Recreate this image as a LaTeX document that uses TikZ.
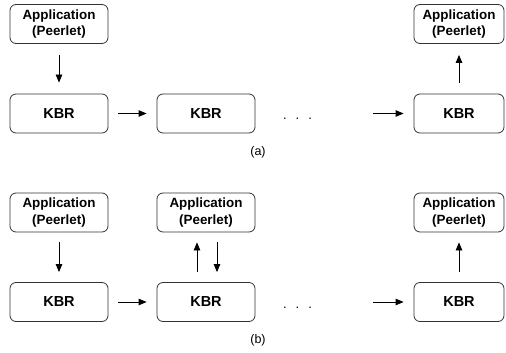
\documentclass[tikz,border=0pt]{standalone}
\usepackage{fontspec}
\setmainfont{Liberation Sans}
\usetikzlibrary{arrows.meta}

\tikzset{
  box/.style={draw=black!80, line width=.8pt, rounded corners=6pt,
    minimum width=98pt, minimum height=39pt, align=center,
    font=\fontsize{13.4}{16.5}\selectfont\bfseries},
  kbrbox/.style={box, font=\fontsize{14.5}{16}\selectfont\bfseries},
  endbox/.style={minimum width=90pt},
  msg/.style={-{Triangle[length=8pt,width=6.5pt]}, line width=.8pt},
  dotsline/.style={anchor=base, font=\fontsize{13}{16}\selectfont},
  caption/.style={font=\fontsize{12.5}{14}\selectfont}
}

\begin{document}
\begin{tikzpicture}[x=1pt, y=-1pt]
    \useasboundingbox (0,0) rectangle (506,353);

    % (a) routing, delivered only at the end
    \node [box]          (appAa) at (59,24)    {Application\\(Peerlet)};
    \node [kbrbox]       (kbrAa) at (59,113.5) {KBR};
    \node [kbrbox]       (kbrAb) at (206,113.5) {KBR};
    \node [kbrbox,endbox] (kbrAc) at (459,113.5) {KBR};
    \node [box,endbox]   (appAc) at (459,24)   {Application\\(Peerlet)};
    \node [dotsline]     (dotsA) at (297.5,119.5) {.\hspace{9pt}.\hspace{9pt}.};
    \coordinate (inA) at (373,113.5);

    \draw [msg, shorten <=11pt, shorten >=11pt] (appAa) -- (kbrAa);
    \draw [msg, shorten <=10pt, shorten >=10pt] (kbrAa) -- (kbrAb);
    \draw [msg, shorten >=10pt] (inA) -- (kbrAc);
    \draw [msg, shorten <=11pt, shorten >=11pt] (kbrAc) -- (appAc);
    \node [caption] (capA) at (258,152) {(a)};

    % (b) upcall at every hop
    \node [box]          (appBa) at (59,212.5)  {Application\\(Peerlet)};
    \node [kbrbox]       (kbrBa) at (59,302)    {KBR};
    \node [box]          (appBb) at (206,212.5) {Application\\(Peerlet)};
    \node [kbrbox]       (kbrBb) at (206,302)   {KBR};
    \node [kbrbox,endbox] (kbrBc) at (459,302)  {KBR};
    \node [box,endbox]   (appBc) at (459,212.5) {Application\\(Peerlet)};
    \node [dotsline]     (dotsB) at (297.5,308.5) {.\hspace{9pt}.\hspace{9pt}.};
    \coordinate (inB) at (373,302);

    \draw [msg, shorten <=10pt, shorten >=10pt] (appBa) -- (kbrBa);
    \draw [msg, shorten <=10pt, shorten >=10pt] (kbrBa) -- (kbrBb);
    \draw [msg, shorten <=10pt, shorten >=10pt] ([xshift=-9pt]kbrBb.north) -- ([xshift=-9pt]appBb.south);
    \draw [msg, shorten <=10pt, shorten >=10pt] ([xshift=11pt]appBb.south) -- ([xshift=11pt]kbrBb.north);
    \draw [msg, shorten >=10pt] (inB) -- (kbrBc);
    \draw [msg, shorten <=10pt, shorten >=10pt] (kbrBc) -- (appBc);
    \node [caption] (capB) at (258,340) {(b)};
\end{tikzpicture}
\end{document}
